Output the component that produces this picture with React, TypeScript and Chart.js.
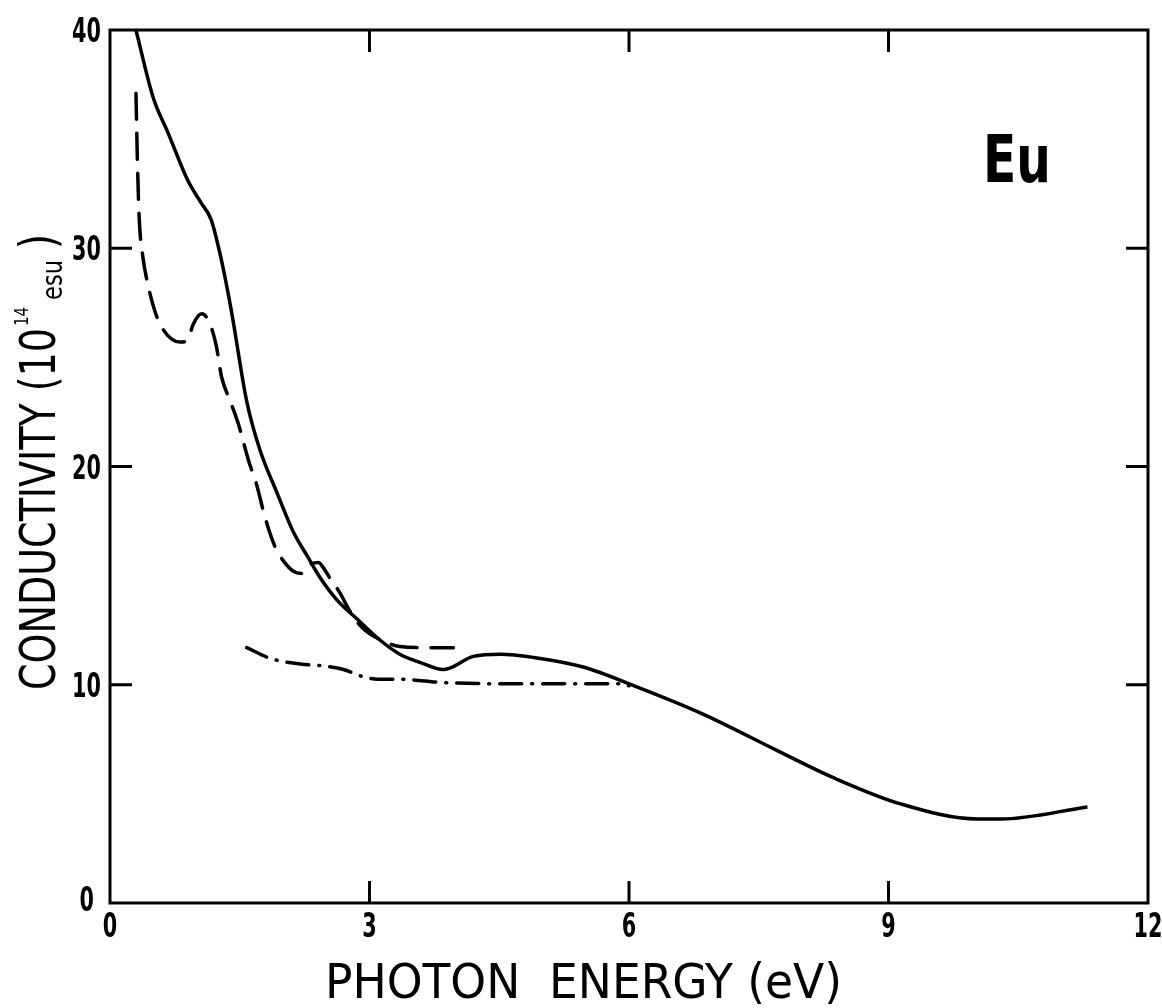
import React, { useEffect, useRef } from "react";
import { Chart, registerables } from "chart.js";

Chart.register(...registerables);

// ---- data (photon energy in eV, conductivity in 10^14 esu) ----
const solidX = [0.30, 0.50, 0.67, 0.90, 1.05, 1.17, 1.28, 1.40, 1.58, 1.73, 1.93, 2.12, 2.28, 2.43, 2.62, 2.86, 3.12, 3.35, 3.60, 3.85, 3.95, 4.20, 4.52, 4.90, 5.48, 6.06, 6.83, 7.72, 8.37, 9.14, 10.03, 10.30, 11.30];
const solidY = [40, 36.9, 35.3, 33.1, 32.1, 31.3, 29.6, 27.2, 23.0, 20.8, 18.8, 17.0, 15.9, 14.9, 13.9, 13.0, 12.05, 11.4, 11.0, 10.7, 10.8, 11.3, 11.4, 11.25, 10.8, 9.95, 8.7, 6.97, 5.73, 4.54, 3.85, 3.85, 4.4];

const dashX = [0.30, 0.32, 0.34, 0.38, 0.44, 0.52, 0.61, 0.71, 0.81, 0.90, 0.96, 1.06, 1.16, 1.23, 1.29, 1.39, 1.48, 1.60, 1.70, 1.79, 1.91, 2.00, 2.12, 2.22, 2.31, 2.41, 2.46, 2.54, 2.66, 2.77, 2.92, 3.16, 3.35, 3.65, 3.97];
const dashY = [37.1, 33.5, 31.2, 29.6, 28.3, 27.1, 26.3, 25.85, 25.7, 25.8, 26.5, 27.0, 26.5, 25.5, 24.1, 23.0, 22.0, 20.3, 19.1, 17.7, 16.3, 15.7, 15.2, 15.1, 15.5, 15.6, 15.4, 14.9, 14.2, 13.4, 12.6, 12.0, 11.75, 11.7, 11.7];

const dotDashX = [1.58, 1.86, 2.20, 2.50, 2.70, 2.90, 3.10, 3.35, 3.85, 4.50, 5.25, 5.90, 6.00];
const dotDashY = [11.7, 11.2, 10.95, 10.85, 10.7, 10.4, 10.25, 10.25, 10.1, 10.05, 10.05, 10.05, 9.95];

const xMin = 0;
const xMax = 12;
const xStep = 3;
const yMin = 0;
const yMax = 40;
const yStep = 10;
const innerXTicks = [3, 6, 9];
const innerYTicks = [10, 20, 30];

const xTitle = "PHOTON  ENERGY (eV)";
const yTitleMain = "CONDUCTIVITY (10";
const yTitleSup = "14";
const yTitleSub = "esu";
const yTitleEnd = ")";
const panelLabel = "Eu";

const FONT = "'Liberation Sans Narrow', 'DejaVu Sans Condensed', 'DejaVu Sans', sans-serif";

const toPoints = (xs: number[], ys: number[]) => xs.map((x, i) => ({ x, y: ys[i] }));

// draw text squeezed horizontally to a given advance width (emulates a condensed face)
function drawFit(ctx: CanvasRenderingContext2D, text: string, x: number, y: number, width: number, align: "left" | "center" | "right" = "left") {
  const w = ctx.measureText(text).width;
  const s = width / w;
  ctx.save();
  ctx.translate(x, y);
  ctx.scale(s, 1);
  ctx.textAlign = align;
  ctx.fillText(text, 0, 0);
  ctx.restore();
}

function drawScaled(ctx: CanvasRenderingContext2D, text: string, x: number, y: number, s: number, align: "left" | "center" | "right") {
  ctx.save();
  ctx.translate(x, y);
  ctx.scale(s, 1);
  ctx.textAlign = align;
  ctx.fillText(text, 0, 0);
  ctx.restore();
}

const framePlugin = {
  id: "frameAndText",
  afterDraw(chart: any) {
    const { ctx, chartArea } = chart;
    const { left, right, top, bottom } = chartArea;
    const xs = chart.scales.x;
    const ys = chart.scales.y;
    ctx.save();
    ctx.strokeStyle = "#000";
    ctx.lineWidth = 3;
    ctx.lineCap = "butt";
    ctx.strokeRect(left, top, right - left, bottom - top);
    const tl = 22;
    ctx.beginPath();
    innerXTicks.forEach((v) => {
      const px = xs.getPixelForValue(v);
      ctx.moveTo(px, bottom);
      ctx.lineTo(px, bottom - tl);
      ctx.moveTo(px, top);
      ctx.lineTo(px, top + tl);
    });
    innerYTicks.forEach((v) => {
      const py = ys.getPixelForValue(v);
      ctx.moveTo(left, py);
      ctx.lineTo(left + tl, py);
      ctx.moveTo(right, py);
      ctx.lineTo(right - tl, py);
    });
    ctx.stroke();

    ctx.fillStyle = "#000";
    ctx.textBaseline = "alphabetic";

    // tick labels from the library's scales
    ctx.font = `bold 33px ${FONT}`;
    const tickSqueeze = 0.7;
    xs.ticks.forEach((t: any) => {
      const px = xs.getPixelForValue(t.value);
      drawScaled(ctx, String(t.label), px, bottom + 34, tickSqueeze, "center");
    });
    ys.ticks.forEach((t: any) => {
      const py = ys.getPixelForValue(t.value);
      const rx = t.value === 0 ? left - 16 : left - 9;
      const dy = t.value === 0 ? -4 : 0;
      drawScaled(ctx, String(t.label), rx, py + 12 + dy, tickSqueeze, "right");
    });

    // panel label
    ctx.font = `bold 66px ${FONT}`;
    drawFit(ctx, panelLabel, right - 165, top + 152, 68, "left");

    // x title
    ctx.font = `48px ${FONT}`;
    drawFit(ctx, xTitle, 325, bottom + 95, 517, "left");

    // y title (rotated)
    ctx.save();
    ctx.translate(55, 690);
    ctx.rotate(-Math.PI / 2);
    ctx.font = `50px ${FONT}`;
    drawFit(ctx, yTitleMain, 0, 0, 362, "left");
    ctx.font = `20px ${FONT}`;
    drawFit(ctx, yTitleSup, 364, -27, 19, "left");
    ctx.font = `28px ${FONT}`;
    drawFit(ctx, yTitleSub, 390, 7, 40, "left");
    ctx.font = `50px ${FONT}`;
    drawFit(ctx, yTitleEnd, 441, 0, 15, "left");
    ctx.restore();

    ctx.restore();
  },
};

export default function App() {
  const ref = useRef<HTMLCanvasElement | null>(null);
  useEffect(() => {
    if (!ref.current) return;
    const chart = new Chart(ref.current, {
      type: "line",
      data: {
        datasets: [
          {
            data: toPoints(solidX, solidY),
            borderColor: "#000",
            borderWidth: 3.5,
            pointRadius: 0,
            cubicInterpolationMode: "monotone",
            fill: false,
          },
          {
            data: toPoints(dashX, dashY),
            borderColor: "#000",
            borderWidth: 3.5,
            borderDash: [26, 14],
            borderCapStyle: "round",
            pointRadius: 0,
            cubicInterpolationMode: "monotone",
            fill: false,
          },
          {
            data: toPoints(dotDashX, dotDashY),
            borderColor: "#000",
            borderWidth: 3.5,
            borderDash: [22, 10, 1, 10],
            borderCapStyle: "round",
            pointRadius: 0,
            cubicInterpolationMode: "monotone",
            fill: false,
          },
        ],
      },
      options: {
        animation: false,
        responsive: true,
        maintainAspectRatio: false,
        layout: { padding: { top: 30, right: 14, left: 0, bottom: 0 } },
        plugins: { legend: { display: false }, tooltip: { enabled: false } },
        scales: {
          x: {
            type: "linear",
            min: xMin,
            max: xMax,
            grid: { display: false, drawTicks: false },
            border: { display: false },
            ticks: { stepSize: xStep, display: false },
            afterFit: (scale: any) => {
              scale.height = 105;
              scale.paddingLeft = 0;
              scale.paddingRight = 0;
            },
          },
          y: {
            type: "linear",
            min: yMin,
            max: yMax,
            grid: { display: false, drawTicks: false },
            border: { display: false },
            ticks: { stepSize: yStep, display: false },
            afterFit: (scale: any) => {
              scale.width = 110;
              scale.paddingTop = 0;
              scale.paddingBottom = 0;
            },
          },
        },
      },
      plugins: [framePlugin],
    } as any);
    return () => chart.destroy();
  }, []);
  return (
    <div style={{ position: "fixed", left: 0, top: 0, width: 1162, height: 1008, background: "#fff" }}>
      <canvas ref={ref} />
    </div>
  );
}
